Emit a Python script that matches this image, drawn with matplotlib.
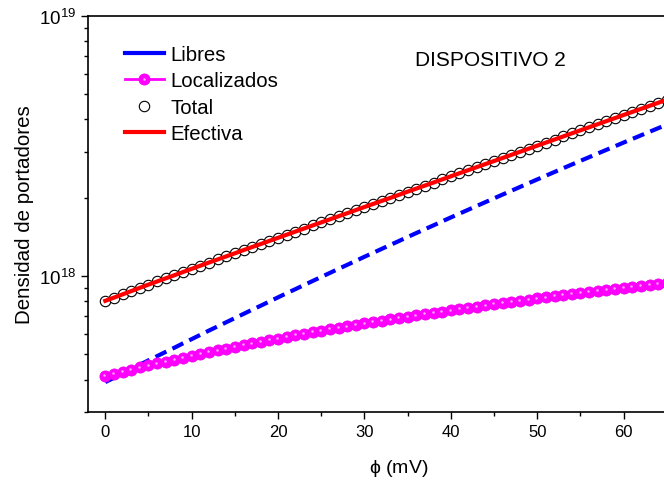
import matplotlib
matplotlib.use('Agg')
import matplotlib.pyplot as plt
from matplotlib.lines import Line2D
from matplotlib.legend_handler import HandlerTuple
import matplotlib.transforms as mtransforms
import numpy as np

plt.rcParams['font.family'] = ['Liberation Sans', 'DejaVu Sans']
plt.rcParams['mathtext.fontset'] = 'custom'
plt.rcParams['mathtext.rm'] = 'Liberation Sans'
plt.rcParams['mathtext.it'] = 'Liberation Sans:italic'

# potential (mV)
phi = list(range(0, 66))

# carrier densities, units of 1e17
libres = [3.91, 4.06, 4.22, 4.39, 4.56, 4.74, 4.92, 5.11, 5.30, 5.51,
          5.72, 5.94, 6.17, 6.40, 6.64, 6.89, 7.15, 7.42, 7.69, 7.98,
          8.28, 8.59, 8.90, 9.23, 9.57, 9.92, 10.28, 10.66, 11.04, 11.44,
          11.86, 12.28, 12.72, 13.17, 13.64, 14.13, 14.63, 15.14, 15.67, 16.23,
          16.80, 17.38, 17.98, 18.60, 19.24, 19.90, 20.58, 21.28, 22.00, 22.75,
          23.52, 24.31, 25.13, 25.97, 26.84, 27.73, 28.64, 29.59, 30.56, 31.56,
          32.61, 33.66, 34.75, 35.87, 37.03, 38.22]
localizados = [4.12, 4.20, 4.28, 4.36, 4.45, 4.53, 4.61, 4.69, 4.77, 4.85,
               4.94, 5.02, 5.10, 5.18, 5.26, 5.34, 5.43, 5.51, 5.59, 5.67,
               5.75, 5.83, 5.92, 6.00, 6.08, 6.16, 6.24, 6.32, 6.40, 6.49,
               6.57, 6.65, 6.73, 6.81, 6.89, 6.98, 7.06, 7.14, 7.22, 7.30,
               7.38, 7.47, 7.55, 7.63, 7.71, 7.79, 7.87, 7.96, 8.04, 8.12,
               8.20, 8.28, 8.36, 8.44, 8.53, 8.61, 8.69, 8.77, 8.85, 8.93,
               9.02, 9.10, 9.18, 9.26, 9.34, 9.42]
total = [8.03, 8.26, 8.50, 8.75, 9.01, 9.27, 9.53, 9.80, 10.07, 10.36,
         10.66, 10.96, 11.27, 11.58, 11.90, 12.23, 12.58, 12.93, 13.28, 13.65,
         14.03, 14.42, 14.82, 15.23, 15.65, 16.08, 16.52, 16.98, 17.44, 17.93,
         18.43, 18.93, 19.45, 19.98, 20.53, 21.11, 21.69, 22.28, 22.89, 23.53,
         24.18, 24.85, 25.53, 26.23, 26.95, 27.69, 28.45, 29.24, 30.04, 30.87,
         31.72, 32.59, 33.49, 34.41, 35.37, 36.34, 37.33, 38.36, 39.41, 40.49,
         41.63, 42.76, 43.93, 45.13, 46.37, 47.64]
efectiva = total

scale = 1e17
x = np.array(phi)
lib = np.array(libres) * scale
loc = np.array(localizados) * scale
tot = np.array(total) * scale
efe = np.array(efectiva) * scale

fig = plt.figure(figsize=(6.64, 4.85), dpi=100)
ax = fig.add_axes([88/664, 72/485, 622/664, 396/485])

# shiny highlight slightly up-left of each sphere
hl_trans = mtransforms.offset_copy(ax.transData, fig=fig, x=-0.8, y=0.8, units='dots')

ax.plot(x, lib, color='#0000ff', lw=3, linestyle=(0, (2.9, 1.6)), zorder=2)
ax.plot(x, loc, color='#ff00ff', lw=2, marker='o', markersize=8,
        markerfacecolor='#ff00ff', markeredgecolor='#f000f0', markeredgewidth=0.6, zorder=3)
ax.plot(x, loc, linestyle='none', marker='o', markersize=1.8,
        markerfacecolor='#ffa8ff', markeredgecolor='none', zorder=4, transform=hl_trans)
ax.plot(x, tot, linestyle='none', marker='o', markersize=7.5,
        markerfacecolor='white', markeredgecolor='black', markeredgewidth=0.8, zorder=3)
ax.plot(x, efe, color='#ff0000', lw=3, zorder=4)

ax.set_yscale('log')
ax.set_xlim(-2, 70)
ax.set_ylim(3e17, 1e19)
ax.set_yticks([1e18, 1e19])
ax.set_yticklabels([r'$10^{18}$', r'$10^{19}$'])
ax.set_xticks(np.arange(0, 70, 10))
ax.set_xticks(np.arange(5, 70, 10), minor=True)
ax.tick_params(which='major', direction='out', length=5, width=1, labelsize=12)
ax.tick_params(axis='y', which='major', labelsize=13.5)
ax.tick_params(which='minor', direction='out', length=3, width=1)
for s in ax.spines.values():
    s.set_linewidth(1.2)

ax.set_xlabel(r'$\mathregular{\phi}$ (mV)', fontsize=14, labelpad=13)
ax.set_ylabel('Densidad de portadores', fontsize=14.8, labelpad=4)
ax.text(0.526, 0.875, 'DISPOSITIVO 2', transform=ax.transAxes, fontsize=15)

h_lib = Line2D([], [], color='#0000ff', lw=3)
h_loc1 = Line2D([], [], color='#ff00ff', lw=2, marker='o', markersize=8,
                markerfacecolor='#ff00ff', markeredgecolor='#f000f0', markeredgewidth=0.6)
h_loc2 = Line2D([], [], linestyle='none', marker='o', markersize=1.8,
                markerfacecolor='#ffa8ff', markeredgecolor='none')
h_tot = Line2D([], [], linestyle='none', marker='o', markersize=7.5,
               markerfacecolor='white', markeredgecolor='black', markeredgewidth=0.8)
h_efe = Line2D([], [], color='#ff0000', lw=3)
ax.legend([h_lib, (h_loc1, h_loc2), h_tot, h_efe],
          ['Libres', 'Localizados', 'Total', 'Efectiva'],
          handler_map={tuple: HandlerTuple(ndivide=1)},
          loc='upper left', bbox_to_anchor=(0.046, 0.9475), frameon=False,
          fontsize=14.7, handlelength=1.9, handletextpad=0.35, labelspacing=0.36,
          borderaxespad=0)

fig.savefig('out.png', dpi=100)
